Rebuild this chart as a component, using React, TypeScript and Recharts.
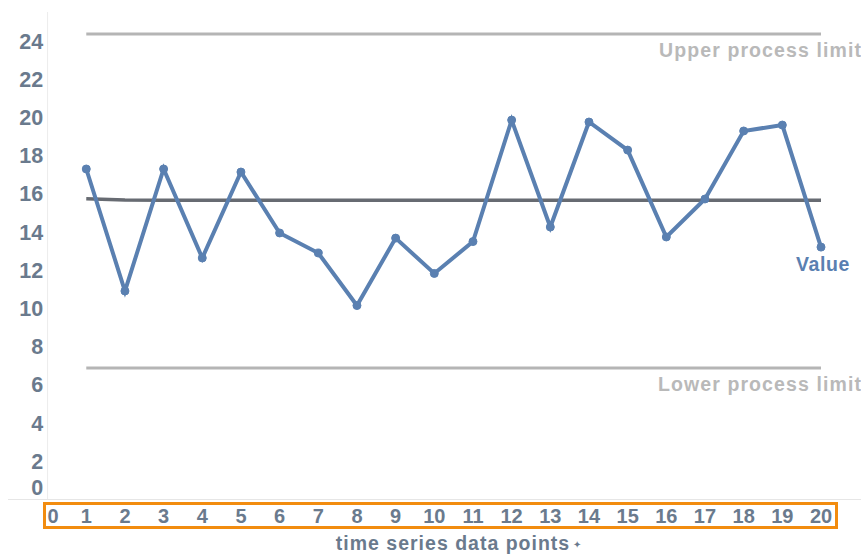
import React from 'react';
import { LineChart, Line, XAxis, YAxis, LabelList } from 'recharts';

const points = [1, 2, 3, 4, 5, 6, 7, 8, 9, 10, 11, 12, 13, 14, 15, 16, 17, 18, 19, 20];
const values = [17.28, 10.89, 17.28, 12.62, 17.12, 13.93, 12.88, 10.13, 13.66, 11.81, 13.48, 19.84, 14.24, 19.74, 18.27, 13.72, 15.71, 19.27, 19.58, 13.19];
const meanValues = [15.72, 15.65, 15.64, 15.64, 15.64, 15.64, 15.64, 15.64, 15.64, 15.64, 15.64, 15.64, 15.64, 15.64, 15.64, 15.64, 15.64, 15.64, 15.64, 15.64];
const upperLimit = [24.35, 24.35, 24.35, 24.35, 24.35, 24.35, 24.35, 24.35, 24.35, 24.35, 24.35, 24.35, 24.35, 24.35, 24.35, 24.35, 24.35, 24.35, 24.35, 24.35];
const lowerLimit = [6.86, 6.86, 6.86, 6.86, 6.86, 6.86, 6.86, 6.86, 6.86, 6.86, 6.86, 6.86, 6.86, 6.86, 6.86, 6.86, 6.86, 6.86, 6.86, 6.86];
const xTicks = [0, 1, 2, 3, 4, 5, 6, 7, 8, 9, 10, 11, 12, 13, 14, 15, 16, 17, 18, 19, 20];
const yTicks = [0, 2, 4, 6, 8, 10, 12, 14, 16, 18, 20, 22, 24];

const data = points.map((p, i) => ({
  x: p,
  value: values[i],
  mean: meanValues[i],
  upper: upperLimit[i],
  lower: lowerLimit[i],
}));

const FONT = '"Liberation Sans", Arial, sans-serif';
const TICK = '#6a7a8d';
const BLUE = '#5a80b1';
const LIMIT = '#b5b5b5';
const LIMIT_TEXT = '#b9b9b9';
const MEAN = '#676b72';

const YTick = (props: any) => {
  const { x, y, payload } = props;
  const dy = payload.value === 0 ? -4.5 : 8;
  return (
    <text x={x} y={y + dy} textAnchor="end" fontFamily={FONT} fontWeight="bold" fontSize={21.5} fill={TICK}>
      {payload.value}
    </text>
  );
};

const XTick = (props: any) => {
  const { x, y, payload } = props;
  const dx = payload.value === 0 ? 5.5 : 0;
  return (
    <text x={x + dx} y={y + 24} textAnchor="middle" fontFamily={FONT} fontWeight="bold" fontSize={20} fill={TICK}>
      {payload.value}
    </text>
  );
};

const makeEndLabel = (text: string, color: string, dx: number, dy: number, anchor: string, spacing: number) => (props: any) => {
  const { x, y, index } = props;
  if (index !== points.length - 1) return null;
  return (
    <text x={x + dx} y={y + dy} textAnchor={anchor} fontFamily={FONT} fontWeight="bold" fontSize={19.5} fill={color} letterSpacing={spacing}>
      {text}
    </text>
  );
};

export default function App() {
  return (
    <div style={{ position: 'absolute', left: 0, top: 0, width: 861, height: 554, background: '#fff' }}>
      <LineChart width={861} height={554} data={data} margin={{ top: 12, right: 40, left: 0, bottom: 0 }}>
        <XAxis
          dataKey="x"
          type="number"
          domain={[0, 20]}
          ticks={xTicks}
          interval={0}
          axisLine={false}
          tickLine={false}
          tickSize={0}
          tickMargin={0}
          height={55}
          tick={<XTick />}
        />
        <YAxis
          type="number"
          domain={[0, 25.5]}
          ticks={yTicks}
          interval={0}
          width={47.6}
          axisLine={{ stroke: '#ececec', strokeWidth: 1 }}
          tickLine={false}
          tickSize={0}
          tickMargin={4.5}
          tick={<YTick />}
        />
        <Line dataKey="upper" stroke={LIMIT} strokeWidth={3} dot={false} isAnimationActive={false}>
          <LabelList dataKey="upper" content={makeEndLabel('Upper process limit', LIMIT_TEXT, 41, 23, 'end', 1.1)} />
        </Line>
        <Line dataKey="lower" stroke={LIMIT} strokeWidth={3} dot={false} isAnimationActive={false}>
          <LabelList dataKey="lower" content={makeEndLabel('Lower process limit', LIMIT_TEXT, 41, 23, 'end', 1.1)} />
        </Line>
        <Line dataKey="mean" stroke={MEAN} strokeWidth={3.5} dot={false} isAnimationActive={false} />
        <Line
          dataKey="value"
          stroke={BLUE}
          strokeWidth={4}
          dot={{ r: 4, fill: BLUE, stroke: BLUE, strokeWidth: 1 }}
          isAnimationActive={false}
        >
          <LabelList dataKey="value" content={makeEndLabel('Value', BLUE, 2, 24, 'middle', 0.6)} />
        </Line>
      </LineChart>
      <svg width={861} height={554} style={{ position: 'absolute', left: 0, top: 0, pointerEvents: 'none' }}>
        <line x1={8} y1={499.5} x2={861} y2={499.5} stroke="#e6e6e6" strokeWidth={1} />
        <rect x={44.5} y={503.5} width={792} height={24} fill="none" stroke="#f28c0f" strokeWidth={3} />
        <text x={453} y={550} textAnchor="middle" fontFamily={FONT} fontWeight="bold" fontSize={19.5} fill={TICK} letterSpacing={1}>
          time series data points
        </text>
        <text x={577} y={548} textAnchor="middle" fontFamily={FONT} fontSize={10} fill={TICK}>
          ✦
        </text>
      </svg>
    </div>
  );
}
